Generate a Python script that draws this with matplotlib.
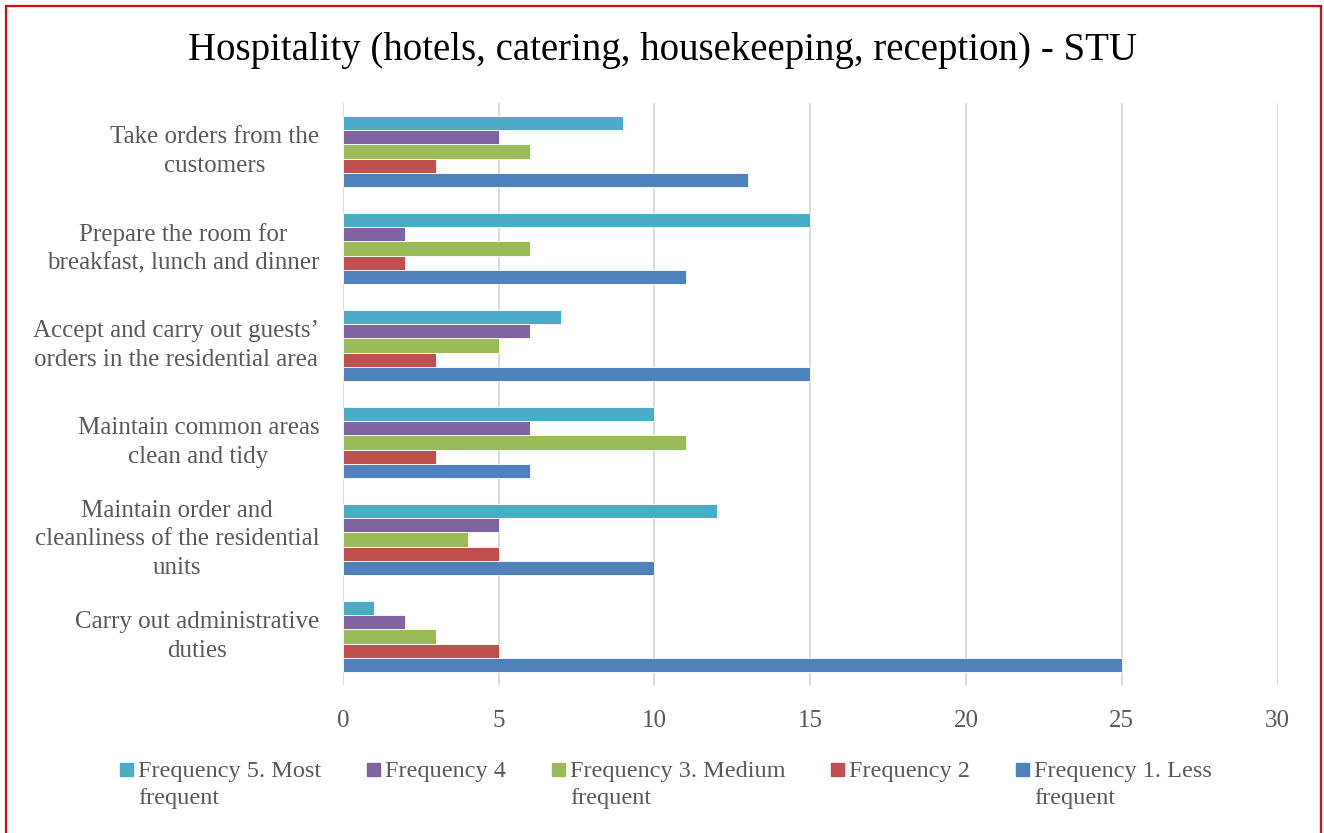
import numpy as np
import matplotlib.pyplot as plt
from matplotlib.patches import Rectangle

# survey answers per task (bottom to top on the chart)
tasks = [
    "Carry out administrative\nduties",
    "Maintain order and\ncleanliness of the residential\nunits",
    "Maintain common areas\nclean and tidy",
    "Accept and carry out guests’\norders in the residential area",
    "Prepare the room for\nbreakfast, lunch and dinner",
    "Take orders from the\ncustomers",
]
freq1 = [25, 10, 6, 15, 11, 13]
freq2 = [5, 5, 3, 3, 2, 3]
freq3 = [3, 4, 11, 5, 6, 6]
freq4 = [2, 5, 6, 6, 2, 5]
freq5 = [1, 12, 10, 7, 15, 9]

series_labels = ["Frequency 1. Less\nfrequent", "Frequency 2",
                 "Frequency 3. Medium\nfrequent", "Frequency 4",
                 "Frequency 5. Most\nfrequent"]
colors = ["#4F81BD", "#C0504D", "#9BBB59", "#8064A2", "#4BACC6"]

plt.rcParams['font.family'] = ['Liberation Serif', 'DejaVu Serif']
grey = "#595959"
W, H = 1324, 833

fig = plt.figure(figsize=(W / 100, H / 100), dpi=100)
ax = fig.add_axes([0.259, 0.1777, 0.706, 0.6987])

y = np.arange(len(tasks))
h = 0.146
all_series = [freq1, freq2, freq3, freq4, freq5]
for i, (vals, c) in enumerate(zip(all_series, colors)):
    ax.barh(y + (i - 2) * h, vals, height=h, color=c,
            edgecolor="white", linewidth=0.6, zorder=3)

ax.set_xlim(0, 30)
ax.set_ylim(-0.5, len(tasks) - 0.5)
ax.set_xticks(range(0, 31, 5))
ax.set_yticks(y)
ax.set_yticklabels(tasks, fontsize=18, color=grey, linespacing=1.4)
ax.tick_params(axis='x', labelsize=18, labelcolor=grey, length=0, pad=18)
ax.tick_params(axis='y', length=0, pad=17)
for lbl in ax.get_yticklabels():
    lbl.set_horizontalalignment('right')
    lbl.set_multialignment('center')
    lbl.set_verticalalignment('center')
ax.grid(axis='x', color="#D9D9D9", linewidth=1.3, zorder=0)
for s in ax.spines.values():
    s.set_visible(False)

fig.text(0.5007, 0.939, "Hospitality (hotels, catering, housekeeping, reception) - STU",
         ha='center', va='center', fontsize=28, color='black')

# legend laid out like the office chart: swatch beside first text line
legend_px = [120, 367, 552, 831, 1016]
order = [4, 3, 2, 1, 0]
for px, idx in zip(legend_px, order):
    fig.patches.append(Rectangle((px / W, 1 - 776 / H), 13 / W, 13 / H,
                                 transform=fig.transFigure, color=colors[idx]))
    fig.text((px + 18) / W, 1 - 761 / H, series_labels[idx], ha='left',
             va='top', fontsize=17.5, color=grey, linespacing=1.4,
             transform=fig.transFigure)

# red frame around the chart
fig.patches.append(Rectangle((6 / W, -0.02), 1315 / W, 1 - 6 / H + 0.02,
                             transform=fig.transFigure, fill=False,
                             edgecolor="#CC1111", linewidth=1.6))

fig.savefig("out.png", dpi=100)
